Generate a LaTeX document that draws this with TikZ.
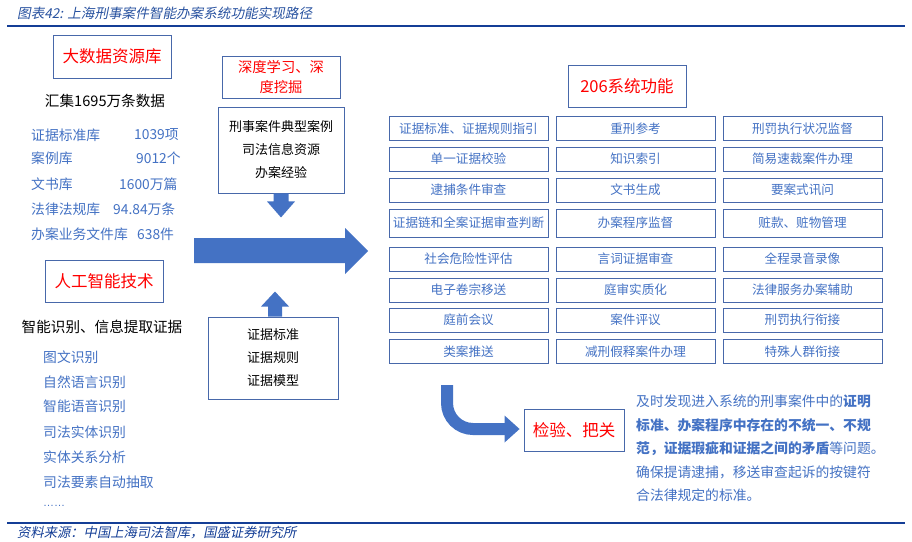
\documentclass[tikz,border=0pt]{standalone}
\usepackage{fontspec}
\setmainfont{Noto Sans CJK SC}
\newfontfamily\slfont[FakeSlant=0.2]{Noto Sans CJK SC}
\newfontfamily\latinfont{Liberation Sans}
\usetikzlibrary{calc}
\definecolor{titlered}{RGB}{255,0,0}
\definecolor{textblue}{RGB}{68,114,196}
\definecolor{boxblue}{RGB}{72,104,170}
\definecolor{arrowblue}{RGB}{68,114,196}
\definecolor{navy}{RGB}{20,62,150}
\definecolor{titleblue}{RGB}{40,82,160}
\tikzset{
  box/.style={draw=boxblue, line width=0.9pt, inner sep=0pt, fill=white},
  redtitle/.style={box, text=titlered, align=center, font=\fontsize{16.5}{19}\selectfont},
  cell/.style={box, text=textblue, minimum width=159pt, minimum height=24pt, font=\fontsize{12.6}{14}\selectfont},
  item/.style={text=textblue, anchor=west, inner sep=0pt, font=\fontsize{13.8}{16}\selectfont},
  blacktext/.style={text=black, inner sep=0pt, font=\fontsize{14}{16}\selectfont},
  midbox/.style={box, text=black, align=center, font=\fontsize{13}{23}\selectfont},
  para/.style={text=textblue, anchor=west, inner sep=0pt, font=\fontsize{13.8}{16}\selectfont},
  arrowfill/.style={fill=arrowblue, draw=none},
}
\begin{document}
\begin{tikzpicture}[x=1pt,y=-1pt]
\useasboundingbox (0,0) rectangle (912,541);
\fill[white] (0,0) rectangle (912,541);
% header and footer
\node[anchor=west, inner sep=0pt, text=titleblue, font=\slfont\fontsize{13.6}{15}\selectfont] (title) at (17,13) {图表42: 上海刑事案件智能办案系统功能实现路径};
\draw[navy, line width=2.5pt] (7,26) -- (905,26);
\draw[navy, line width=2.5pt] (7,523) -- (905,523);
\node[anchor=west, inner sep=0pt, text=navy, font=\slfont\fontsize{13.3}{15}\selectfont] (source) at (17,533) {资料来源：中国上海司法智库，国盛证券研究所};

% left column: big data
\node[redtitle, minimum width=118pt, minimum height=43pt] (bigdata) at (112,56.5) {大数据资源库};
\node[blacktext, font=\fontsize{14.6}{16}\selectfont] (collect) at (105,101) {汇集1695万条数据};
\node[item] (l1) at (31,135) {证据标准库};
\node[item] (l2) at (31,158.5) {案例库};
\node[item] (l3) at (31,184) {文书库};
\node[item] (l4) at (31,209) {法律法规库};
\node[item] (l5) at (31,234) {办案业务文件库};
\node[item] (v1) at (134,135) {1039项};
\node[item] (v2) at (136,158.5) {9012个};
\node[item] (v3) at (119,184) {1600万篇};
\node[item] (v4) at (113,209) {94.84万条};
\node[item] (v5) at (137,234) {638件};

% left column: AI
\node[redtitle, minimum width=118pt, minimum height=42pt] (ai) at (104,281) {人工智能技术};
\node[blacktext, font=\fontsize{14.6}{16}\selectfont] (extract) at (102,327) {智能识别、信息提取证据};
\node[item] (a1) at (43,357) {图文识别};
\node[item] (a2) at (43,382) {自然语言识别};
\node[item] (a3) at (43,406.5) {智能语音识别};
\node[item] (a4) at (43,432) {司法实体识别};
\node[item] (a5) at (43,457) {实体关系分析};
\node[item] (a6) at (43,482) {司法要素自动抽取};
\node[item, font=\latinfont\fontsize{11}{12}\selectfont] (a7) at (43,506) {……};

% middle column
\node[redtitle, font=\fontsize{14.3}{20}\selectfont, minimum width=118pt, minimum height=42pt] (deep) at (281,77) {深度学习、深\\度挖掘};
\node[midbox, minimum width=126pt, minimum height=86pt] (mid1) at (281,150) {刑事案件典型案例\\司法信息资源\\办案经验};
\node[midbox, minimum width=130pt, minimum height=82pt] (mid2) at (273,358) {证据标准\\证据规则\\证据模型};

% arrows in the middle
\fill[arrowfill] ($(mid1.south)+(-7.5,0)$) -- ++(0,8) -- ++(-6.5,0) -- ++(14,16) -- ++(14,-16) -- ++(-6.5,0) -- ++(0,-8) -- cycle;
\fill[arrowfill] (194,238) -- (345,238) -- (345,228) -- (368,251) -- (345,274) -- (345,263) -- (194,263) -- cycle;
\fill[arrowfill] ($(mid2.north)+(2.5-7.5,0)$) -- ++(0,-10) -- ++(-7,0) -- ++(14,-15) -- ++(14,15) -- ++(-7,0) -- ++(0,10) -- cycle;

% right column
\node[redtitle, minimum width=118pt, minimum height=42pt] (sys) at (627,86) {206系统功能};

\node[cell] (r1c1) at (468.5,128.5) {证据标准、证据规则指引};
\node[cell] (r1c2) at (635.5,128.5) {重刑参考};
\node[cell] (r1c3) at (802.5,128.5) {刑罚执行状况监督};
\node[cell] (r2c1) at (468.5,159) {单一证据校验};
\node[cell] (r2c2) at (635.5,159) {知识索引};
\node[cell] (r2c3) at (802.5,159) {简易速裁案件办理};
\node[cell] (r3c1) at (468.5,190) {逮捕条件审查};
\node[cell] (r3c2) at (635.5,190) {文书生成};
\node[cell] (r3c3) at (802.5,190) {要案式讯问};
\node[cell, minimum height=28pt] (r4c1) at (468.5,223) {证据链和全案证据审查判断};
\node[cell, minimum height=28pt] (r4c2) at (635.5,223) {办案程序监督};
\node[cell, minimum height=28pt] (r4c3) at (802.5,223) {赃款、赃物管理};
\node[cell] (r5c1) at (468.5,259) {社会危险性评估};
\node[cell] (r5c2) at (635.5,259) {言词证据审查};
\node[cell] (r5c3) at (802.5,259) {全程录音录像};
\node[cell] (r6c1) at (468.5,290) {电子卷宗移送};
\node[cell] (r6c2) at (635.5,290) {庭审实质化};
\node[cell] (r6c3) at (802.5,290) {法律服务办案辅助};
\node[cell] (r7c1) at (468.5,320) {庭前会议};
\node[cell] (r7c2) at (635.5,320) {案件评议};
\node[cell] (r7c3) at (802.5,320) {刑罚执行衔接};
\node[cell] (r8c1) at (468.5,351.5) {类案推送};
\node[cell] (r8c2) at (635.5,351.5) {减刑假释案件办理};
\node[cell] (r8c3) at (802.5,351.5) {特殊人群衔接};

% check box and bent arrow
\node[redtitle, minimum width=100pt, minimum height=42pt] (check) at (574,430) {检验、把关};
\coordinate (bendtop) at (447,385);
\coordinate (headback) at ($(check.west)+(-19,-1)$);
\draw[arrowblue, line width=12pt, rounded corners=26pt] (bendtop) |- ($(headback)+(1,0)$);
\fill[arrowfill] ($(headback)+(0,-13.5)$) -- ($(check.west)+(-4,-1)$) -- ($(headback)+(0,13.5)$) -- cycle;

% paragraph
\node[para] (p1) at (636,401.5) {及时发现进入系统的刑事案件中的\textbf{证明}};
\node[para] (p2) at (636,425) {\textbf{标准、办案程序中存在的不统一、不规}};
\node[para] (p3) at (636,448.5) {\textbf{范，证据瑕疵和证据之间的矛盾}等问题。};
\node[para] (p4) at (636,472) {确保提请逮捕，移送审查起诉的按键符};
\node[para] (p5) at (636,495.5) {合法律规定的标准。};
\end{tikzpicture}
\end{document}
